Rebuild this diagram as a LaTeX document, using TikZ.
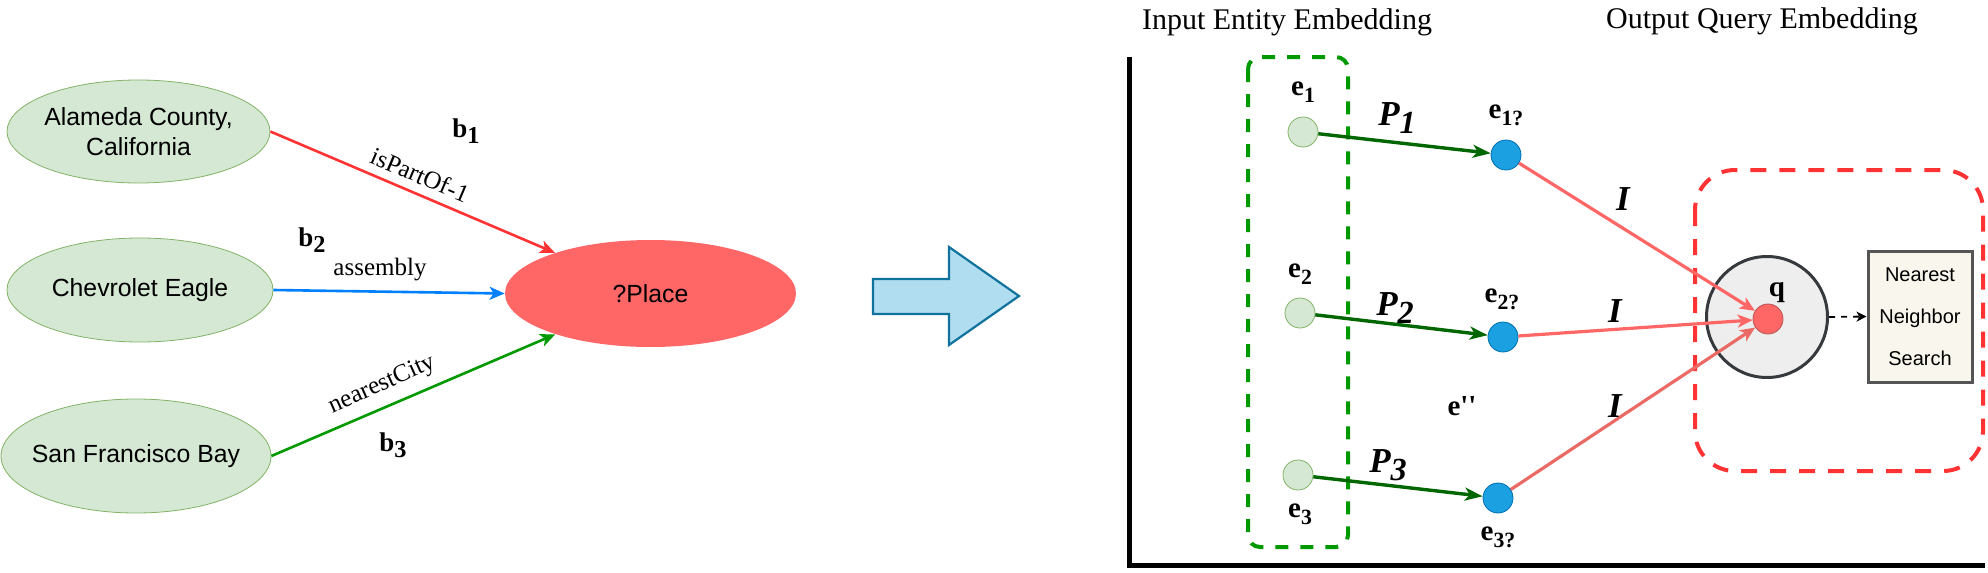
\documentclass[tikz,border=0pt]{standalone}
\usepackage{fontspec}
\setmainfont{Liberation Serif}
\newfontfamily\sansfont{Liberation Sans}
\usepackage{xcolor}
\usetikzlibrary{arrows.meta,shapes.geometric}
\definecolor{leafgreen}{HTML}{D5E8D4}
\definecolor{leafline}{HTML}{82B366}
\definecolor{placered}{HTML}{FF6666}
\definecolor{relred}{HTML}{FF3333}
\definecolor{relblue}{HTML}{007FFF}
\definecolor{relgreen}{HTML}{009900}
\definecolor{arrowfill}{HTML}{B1DDF0}
\definecolor{arrowline}{HTML}{10739E}
\definecolor{dotblue}{HTML}{1BA1E2}
\definecolor{dotblueline}{HTML}{006EAF}
\definecolor{projgreen}{HTML}{006600}
\definecolor{qgray}{HTML}{EEEEEE}
\definecolor{qline}{HTML}{36393D}
\definecolor{qred}{HTML}{B85450}
\definecolor{lastred}{HTML}{EA6B66}
\definecolor{nnsfill}{HTML}{F9F7ED}
\definecolor{nnsline}{HTML}{555555}
\newcommand{\lowidx}[2][0.75]{\raisebox{-0.25em}{\scalebox{#1}{#2}}}
\tikzset{
    entity-box/.style = {ellipse, draw=leafline, fill=leafgreen, thin, inner xsep=-15pt, inner ysep=0pt, minimum width=131.5pt, minimum height=51.5pt, align=center, font=\sansfont\fontsize{12.4}{15}\selectfont},
    target-box/.style = {ellipse, fill=placered, inner sep=0pt, minimum width=145.5pt, minimum height=53.5pt, font=\sansfont\fontsize{12.4}{15}\selectfont},
    rel-edge/.style = {line width=1.3pt, -{Stealth[length=7.5pt, width=6.5pt, inset=2pt]}},
    rel-label/.style = {inner sep=0pt, font=\fontsize{12.5}{15}\selectfont},
    branch-label/.style = {inner sep=0pt, font=\bfseries\fontsize{13.5}{16}\selectfont},
    shift-arrow/.style = {draw=arrowline, fill=arrowfill, line width=1.1pt, line join=miter},
    heading/.style = {inner sep=0pt, font=\fontsize{15}{18}\selectfont},
    axis-line/.style = {line width=2.5pt},
    anchor-group/.style = {draw=relgreen, line width=2pt, dash pattern=on 6.5pt off 6pt, rounded corners=6pt},
    query-group/.style = {draw=relred, line width=2pt, dash pattern=on 8pt off 6.5pt, rounded corners=20pt},
    anchor-dot/.style = {circle, draw=leafline, fill=leafgreen, thin, minimum size=15pt, inner sep=0pt},
    proj-dot/.style = {circle, draw=dotblueline, fill=dotblue, thin, minimum size=15pt, inner sep=0pt},
    query-disc/.style = {circle, draw=qline, fill=qgray, line width=1.5pt, minimum size=60.5pt, inner sep=0pt},
    query-dot/.style = {circle, draw=qred, fill=placered, thin, minimum size=15pt, inner sep=0pt},
    nns-box/.style = {draw=nnsline, fill=nnsfill, line width=1.5pt, minimum width=52pt, minimum height=65.5pt, inner sep=0pt, align=center, font=\sansfont\fontsize{10}{21}\selectfont},
    emb-label/.style = {inner sep=0pt, font=\bfseries\fontsize{14.5}{17}\selectfont},
    op-label/.style = {inner sep=0pt, font=\bfseries\itshape\fontsize{17.5}{20}\selectfont},
    proj-edge/.style = {draw=projgreen, line width=1.7pt, -{Stealth[length=9pt, width=6.5pt, inset=2.5pt]}},
    inter-edge/.style = {draw=placered, line width=1.6pt, -{Stealth[length=7.5pt, width=6.5pt, inset=2pt]}},
    search-edge/.style = {line width=0.9pt, dashed, -{Stealth[length=5pt, width=5pt, inset=1.5pt]}},
}

\begin{document}
\begin{tikzpicture}[x=0.5pt, y=-0.5pt]
\useasboundingbox (0,0) rectangle (1988,573);

% query graph
\node[entity-box] (ala) at (138.5,131.5) {Alameda County,\\California};
\node[entity-box, minimum width=133pt, minimum height=52pt] (chev) at (140,290) {Chevrolet Eagle};
\node[entity-box, minimum width=135pt, minimum height=57pt] (sfb) at (136,456) {San Francisco Bay};
\node[target-box] (place) at (650.5,293.5) {?Place};

\draw[rel-edge, relred] (ala.east) -- (place);
\draw[rel-edge, relblue] (chev.east) -- (place.west);
\draw[rel-edge, relgreen] (sfb.east) -- (place);

\node[rel-label, rotate=-23] (lpart) at (420,175) {isPartOf-1};
\node[rel-label, anchor=base] (lasm) at (380,275) {assembly};
\node[rel-label, rotate=24] (lcity) at (382,385) {nearestCity};
\node[branch-label, anchor=base] (b1) at (466,137) {b\lowidx[0.9]{1}};
\node[branch-label, anchor=base] (b2) at (312,246) {b\lowidx[0.9]{2}};
\node[branch-label, anchor=base] (b3) at (393,451) {b\lowidx[0.9]{3}};

\draw[shift-arrow] (873,279) -- (949,279) -- (949,247) -- (1019,296) -- (949,345) -- (949,314) -- (873,314) -- cycle;

% embedding space
\node[heading, anchor=base] (inhead) at (1287,29) {Input Entity Embedding};
\node[heading, anchor=base] (outhead) at (1762,28) {Output Query Embedding};
\draw[axis-line] (1129,57) -- (1129,565) -- (1985,565);
\draw[anchor-group] (1248,57) rectangle (1348,547);
\draw[query-group] (1695,170) rectangle (1983,471);

\node[anchor-dot] (e1) at (1303,132) {};
\node[anchor-dot] (e2) at (1300,313) {};
\node[anchor-dot] (e3) at (1298,475) {};
\node[proj-dot] (p1) at (1506,155) {};
\node[proj-dot] (p2) at (1503,337) {};
\node[proj-dot] (p3) at (1498,498) {};
\node[query-disc] (qdisc) at (1767,317) {};
\node[query-dot] (q) at (1768,319) {};
\node[nns-box] (nns) at (1920,316.5) {Nearest\\Neighbor\\Search};

\draw[proj-edge] (e1) -- (p1);
\draw[proj-edge] (e2) -- (p2);
\draw[proj-edge] (e3) -- (p3);
\draw[inter-edge] (p1) -- (q);
\draw[inter-edge] (p2) -- (q);
\draw[inter-edge, draw=lastred] (p3) -- (q);
\draw[search-edge] (qdisc.east) -- (nns.west);

\node[emb-label, anchor=base] (le1) at (1303,95) {e\lowidx{1}};
\node[emb-label, anchor=base] (le2) at (1300,277) {e\lowidx{2}};
\node[emb-label, anchor=base] (le3) at (1300,517) {e\lowidx{3}};
\node[emb-label, anchor=base] (lp1) at (1506,118) {e\lowidx{1?}};
\node[emb-label, anchor=base] (lp2) at (1502,302) {e\lowidx{2?}};
\node[emb-label, anchor=base] (lp3) at (1498,540) {e\lowidx{3?}};
\node[emb-label, anchor=base] (lmid) at (1462,415) {e\textquotesingle\textquotesingle};
\node[emb-label, anchor=base] (lq) at (1777,296) {q};

\node[op-label, anchor=base] (P1) at (1397,125) {P\lowidx[0.92]{1}};
\node[op-label, anchor=base] (P2) at (1395,315) {P\lowidx[0.92]{2}};
\node[op-label, anchor=base] (P3) at (1388,472) {P\lowidx[0.92]{3}};
\node[op-label, anchor=base] (I1) at (1623,210) {I};
\node[op-label, anchor=base] (I2) at (1615,322) {I};
\node[op-label, anchor=base] (I3) at (1615,417) {I};
\end{tikzpicture}
\end{document}
